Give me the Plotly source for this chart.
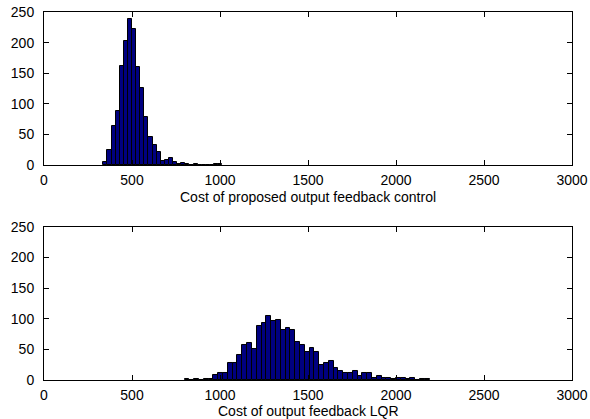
import plotly.graph_objects as go
from plotly.subplots import make_subplots

# ---- data ----
top_start = 337.0      # left edge of first bin (cost units)
top_width = 23.3       # bin width
top_counts = [5, 24, 63, 88, 162, 203, 238, 222, 160, 126, 78, 45, 32, 22,
              7, 8, 11, 5, 2, 4, 2, 0, 1, 0, 0, 0, 0, 1, 1]

bot_start = 799.0
bot_width = 27.3
bot_counts = [1, 0, 1, 0, 1, 2, 9, 11, 11, 27, 27, 41, 58, 61, 50, 88, 93, 105,
              97, 98, 82, 85, 81, 62, 58, 46, 52, 46, 25, 28, 31, 20, 14, 12,
              11, 14, 6, 12, 11, 4, 6, 4, 4, 1, 3, 3, 1, 3, 0, 1, 1]

x_ticks = [0, 500, 1000, 1500, 2000, 2500, 3000]
y_ticks = [0, 50, 100, 150, 200, 250]
top_label = "Cost of proposed output feedback control"
bot_label = "Cost of output feedback LQR"

top_centers = [top_start + top_width * (i + 0.5) for i in range(len(top_counts))]
bot_centers = [bot_start + bot_width * (i + 0.5) for i in range(len(bot_counts))]

fig = make_subplots(rows=2, cols=1)
bar_color = "#000080"
fig.add_trace(go.Bar(x=top_centers, y=top_counts, width=top_width,
                     marker=dict(color=bar_color, line=dict(color="black", width=1)),
                     showlegend=False), row=1, col=1)
fig.add_trace(go.Bar(x=bot_centers, y=bot_counts, width=bot_width,
                     marker=dict(color=bar_color, line=dict(color="black", width=1)),
                     showlegend=False), row=2, col=1)

font = dict(family="Liberation Sans, Arial, sans-serif", size=14, color="black")
axis_common = dict(showline=True, linecolor="black", linewidth=1, mirror="ticks",
                   ticks="inside", ticklen=5, tickcolor="black", showgrid=False,
                   zeroline=False, tickfont=font, ticklabeloverflow="allow",
                   automargin=False)

fig.update_xaxes(range=[0, 3000], tickvals=x_ticks, ticktext=[str(v) for v in x_ticks],
                 ticklabelstandoff=2, **axis_common)
fig.update_yaxes(range=[0, 250], tickvals=y_ticks, ticktext=[str(v) for v in y_ticks],
                 ticklabelstandoff=6, **axis_common)

top_dom = [0.5842, 1.0]
bot_dom = [0.0, 0.4158]
fig.update_layout(
    width=590, height=419,
    margin=dict(l=44, r=18, t=12, b=39, autoexpand=False),
    paper_bgcolor="white", plot_bgcolor="white",
    bargap=0,
    xaxis=dict(domain=[0, 1]), yaxis=dict(domain=top_dom),
    xaxis2=dict(domain=[0, 1]), yaxis2=dict(domain=bot_dom),
    font=font,
    annotations=[
        dict(text=top_label, xref="paper", yref="paper", x=0.5, y=0.497,
             xanchor="center", yanchor="middle", showarrow=False, font=font),
        dict(text=bot_label, xref="paper", yref="paper", x=0.5, y=-0.0855,
             xanchor="center", yanchor="middle", showarrow=False, font=font),
    ],
)

fig.write_html("out.html", config={"displayModeBar": False},
               post_script="document.body.style.margin='0px';")
